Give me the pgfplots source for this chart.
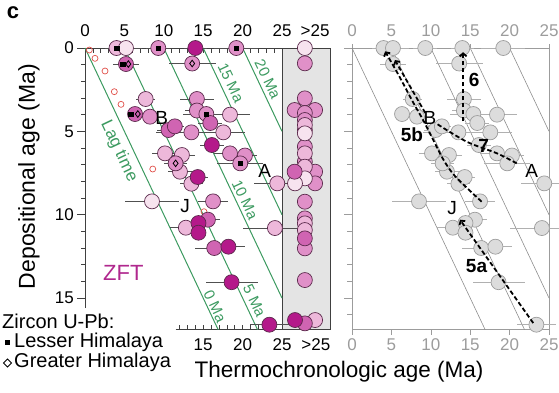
\documentclass[border=0pt]{standalone}
\usepackage{pgfplots}
\pgfplotsset{compat=1.18}
\usepackage{pgfplotstable}
\usepackage{fontspec}
\setmainfont{Liberation Sans}
\usetikzlibrary{arrows.meta}

\definecolor{cVL}{HTML}{F7E3EF}
\definecolor{cL}{HTML}{EDB8DA}
\definecolor{cM}{HTML}{E090C8}
\definecolor{cMD}{HTML}{D064B2}
\definecolor{cD}{HTML}{B4198A}
\definecolor{edge}{HTML}{5B2A4C}
\definecolor{lagG}{HTML}{3C9A60}
\definecolor{boxG}{HTML}{E4E4E4}
\definecolor{ebar}{HTML}{505050}
\definecolor{frame}{HTML}{404040}
\definecolor{rgray}{HTML}{9C9C9C}
\definecolor{rfill}{HTML}{DCDCDC}
\definecolor{zft}{HTML}{B0288E}
\definecolor{redc}{HTML}{E0504A}

% --- left/right panel data: thermochronologic age x, depositional age y, error ex
\pgfplotstableread{
x y ex
5.2 0 2.0
8.5 9.2 3.4
}\tVL
\pgfplotstableread{
x y ex
4.0 0 1.5
7.7 3.06 1.2
18.4 4.0 2.5
17.55 5.06 2.8
10.15 6.32 1.6
12.3 6.42 1.6
12.05 7.42 1.5
13.5 8.14 1.5
24.4 8.12 3.0
12.8 10.78 2.0
24.1 10.8 4.0
}\tL
\pgfplotstableread{
x y ex
9.3 0 1.5
19.2 0 2.8
13.6 0.93 3.0
14.2 3.06 2.2
14.2 3.75 1.5
15.4 3.96 3.0
8.25 4.12 0.8
13.5 5.06 4.5
18.4 6.32 2.0
20.3 6.45 1.5
19.7 6.92 2.9
11.5 6.92 1.5
16.25 9.2 1.9
}\tM
\pgfplotstableread{
x y ex
5.2 0.96 1.6
6.35 3.96 0.8
15.9 4.5 1.5
10.6 4.92 1.5
11.4 4.7 1.2
16.4 12.0 2.4
15.6 10.3 1.5
}\tMD
\pgfplotstableread{
x y ex
14.0 0 1.5
16.1 5.82 1.5
14.3 7.74 1.3
14.4 10.5 1.3
14.4 11.08 1.0
18.2 11.92 2.1
18.6 14.05 3.3
23.4 16.6 2.5
}\tD
\pgfplotstableread{
x y
4.0 0
9.3 0
19.2 0
4.8 0.96
5.8 3.96
15.4 3.96
19.7 6.92
}\tSq
\pgfplotstableread{
x y
5.5 0.96
13.6 0.93
6.7 3.96
11.5 6.92
}\tDi
\pgfplotstableread{
x y
0.55 0.12
1.27 0.62
2.54 1.38
3.72 2.62
4.57 3.38
8.6 7.26
15.1 9.82
}\tRed
% --- >25 Ma column
\pgfplotstableread{
x y
27.9 0
27.9 7.82
26.65 8.12
27.9 5.12
}\gVL
\pgfplotstableread{
x y
27.9 4.62
27.9 6.32
27.9 10.52
27.9 10.92
29.2 16.32
27.9 7.12
}\gL
\pgfplotstableread{
x y
27.9 0.92
27.9 3.02
26.6 3.72
29.2 3.72
27.9 3.9
27.9 4.32
27.9 4.92
27.9 5.92
27.9 6.82
29.2 7.42
29.2 8.12
27.9 9.22
27.9 10.22
27.9 12.02
27.9 13.92
}\gM
\pgfplotstableread{
x y
26.6 7.42
27.9 11.42
27.9 16.52
}\gMD
\pgfplotstableread{
x y
26.65 16.32
}\gD

\newcommand\tfs{\fontsize{17}{20}\selectfont}
\pgfplotsset{
  ebars/.style={only marks, mark=none, error bars/.cd, x dir=both, x explicit, error mark=none,
     error bar style={#1, line width=0.9pt}},
  circ/.style={only marks, mark=*, mark size=7.5pt, mark options={fill=#1, draw=edge, line width=0.7pt}},
  rcirc/.style={only marks, mark=*, mark size=7.5pt, mark options={fill=rfill, draw=rgray, line width=0.7pt}},
  trend/.style={black, line width=1.8pt, dash pattern=on 4.5pt off 2.5pt},
}

\begin{document}
\begin{tikzpicture}
\useasboundingbox (0,0) rectangle (559pt,-392pt);
% ================= LEFT PANEL =================
\begin{axis}[at={(85pt,-48pt)}, anchor=north west, scale only axis,
  width=245.07pt, height=281.7pt, xmin=0, xmax=31.1, ymin=0, ymax=16.9,
  y dir=reverse, hide axis, clip=false, clip marker paths=true]
 \fill[boxG] (axis cs:25,0) rectangle (axis cs:31.1,16.9);
 \draw[frame, line width=0.8pt] (axis cs:25,0) rectangle (axis cs:31.1,16.9);
 \draw[frame, line width=0.8pt] (axis cs:0,15.6) -- (axis cs:0,0) -- (axis cs:25,0);
 \draw[frame, line width=0.8pt] (axis cs:11.5,16.9) -- (axis cs:25,16.9);
 \pgfplotsinvokeforeach{0,...,25}{\draw[frame, line width=0.6pt] (axis cs:#1,0) -- ++(0,-4.5pt);}
 \pgfplotsinvokeforeach{12,...,25}{\draw[frame, line width=0.6pt] (axis cs:#1,16.9) -- ++(0,4.5pt);}
 \pgfplotsinvokeforeach{1,...,15}{\draw[frame, line width=0.6pt] (axis cs:0,#1) -- ++(-4pt,0);}
 \pgfplotsinvokeforeach{0,5,10,15}{\draw[frame, line width=0.6pt] (axis cs:0,#1) -- ++(-8pt,0);
    \node[font=\tfs, anchor=east, inner sep=0pt] at (axis cs:0,#1) [xshift=-11pt] {#1};}
 \pgfplotsinvokeforeach{0,5,10,15,20,25}{\node[font=\tfs, inner sep=0pt, yshift=17pt] at (axis cs:#1,0) {#1};}
 \pgfplotsinvokeforeach{15,20,25}{\node[font=\tfs, inner sep=0pt, yshift=-15pt] at (axis cs:#1,16.9) {#1};}
 \node[font=\tfs, inner sep=0pt, yshift=17pt] at (axis cs:29.2,0) {>25};
 \node[font=\tfs, inner sep=0pt, yshift=-15pt] at (axis cs:29.3,16.9) {>25};
 % lag-time lines
 \addplot[lagG, line width=1pt] coordinates {(0,0) (16.9,16.9)};
 \addplot[lagG, line width=1pt] coordinates {(5,0) (21.9,16.9)};
 \addplot[lagG, line width=1pt] coordinates {(10,0) (25,15)};
 \addplot[lagG, line width=1pt] coordinates {(15,0) (25,10)};
 \addplot[lagG, line width=1pt] coordinates {(20,0) (25,5)};
 \node[text=lagG, rotate=-64.7, inner sep=0pt, font=\fontsize{15}{17}\selectfont] at (axis cs:23.2,1.88) {20 Ma};
 \node[text=lagG, rotate=-64.7, inner sep=0pt, font=\fontsize{15}{17}\selectfont] at (axis cs:18.5,2.08) {15 Ma};
 \node[text=lagG, rotate=-64.7, inner sep=0pt, font=\fontsize{15}{17}\selectfont] at (axis cs:20.3,9.1) {10 Ma};
 \node[text=lagG, rotate=-64.7, inner sep=0pt, font=\fontsize{15}{17}\selectfont] at (axis cs:21.5,15.16) {5 Ma};
 \node[text=lagG, rotate=-64.7, inner sep=0pt, font=\fontsize{15}{17}\selectfont] at (axis cs:16.5,15.5) {0 Ma};
 \node[text=lagG, rotate=-64.7, inner sep=0pt, font=\fontsize{17}{19}\selectfont] at (axis cs:4.3,6.2) {Lag time};
 % red open circles
 \addplot[only marks, mark=o, mark size=3pt, mark options={draw=redc, line width=0.7pt}] table {\tRed};
 % error bars
 \addplot[ebars=ebar] table[x=x, y=y, x error=ex] {\tVL};
 \addplot[ebars=ebar] table[x=x, y=y, x error=ex] {\tL};
 \addplot[ebars=ebar] table[x=x, y=y, x error=ex] {\tM};
 \addplot[ebars=ebar] table[x=x, y=y, x error=ex] {\tMD};
 \addplot[ebars=ebar] table[x=x, y=y, x error=ex] {\tD};
 % circles
 \addplot[circ=cL] table[x=x, y=y] {\tL};
 \addplot[circ=cVL] table[x=x, y=y] {\tVL};
 \addplot[circ=cM] table[x=x, y=y] {\tM};
 \addplot[circ=cMD] table[x=x, y=y] {\tMD};
 \addplot[circ=cD] table[x=x, y=y] {\tD};
 % >25 column
 \addplot[circ=cM] table {\gM};
 \addplot[circ=cL] table {\gL};
 \addplot[circ=cVL] table {\gVL};
 \addplot[circ=cMD] table {\gMD};
 \addplot[circ=cD] table {\gD};
 % zircon source markers
 \addplot[only marks, mark=square*, mark size=2.3pt, mark options={fill=black, draw=black}] table {\tSq};
 \addplot[only marks, mark=diamond, mark size=3.3pt, mark options={draw=black, line width=0.8pt}] table {\tDi};
 % labels
 \node[font=\fontsize{19}{21}\selectfont] at (axis cs:9.73,4.22) {B};
 \node[font=\fontsize{19}{21}\selectfont] at (axis cs:22.8,7.4) {A};
 \node[font=\fontsize{19}{21}\selectfont] at (axis cs:12.7,9.5) {J};
 \node[text=zft, font=\fontsize{22}{24}\selectfont] at (axis cs:4.86,13.5) {ZFT};
\end{axis}
% ================= RIGHT PANEL =================
\begin{axis}[at={(352pt,-48pt)}, anchor=north west, scale only axis,
  width=197pt, height=281.7pt, xmin=0, xmax=25, ymin=0, ymax=16.9,
  y dir=reverse, hide axis, clip=false, clip marker paths=true]
 \draw[rgray, line width=0.8pt] (axis cs:0,0) rectangle (axis cs:25,16.9);
 \pgfplotsinvokeforeach{1,...,16}{\draw[rgray, line width=0.6pt] (axis cs:0,#1) -- ++(-5pt,0);}
 \pgfplotsinvokeforeach{0,5,10,15}{\draw[rgray, line width=0.6pt] (axis cs:0,#1) -- ++(-8pt,0);}
 \pgfplotsinvokeforeach{0,5,10,15,20,25}{
   \draw[rgray, line width=0.6pt] (axis cs:#1,16.9) -- ++(0,-5pt);
   \draw[rgray, line width=0.6pt] (axis cs:#1,0) -- ++(0,4pt);
   \node[font=\tfs, text=rgray, inner sep=0pt, yshift=17pt] at (axis cs:#1,0) {#1};
   \node[font=\tfs, text=rgray, inner sep=0pt, yshift=-15pt] at (axis cs:#1,16.9) {#1};}
 \addplot[rgray!90!black, line width=0.6pt] coordinates {(0,0) (16.9,16.9)};
 \addplot[rgray!90!black, line width=0.6pt] coordinates {(5,0) (21.9,16.9)};
 \addplot[rgray!90!black, line width=0.6pt] coordinates {(10,0) (25,15)};
 \addplot[rgray!90!black, line width=0.6pt] coordinates {(15,0) (25,10)};
 \addplot[rgray!90!black, line width=0.6pt] coordinates {(20,0) (25,5)};
 \addplot[ebars=rgray!80] table[x=x, y=y, x error=ex] {\tVL};
 \addplot[ebars=rgray!80] table[x=x, y=y, x error=ex] {\tL};
 \addplot[ebars=rgray!80] table[x=x, y=y, x error=ex] {\tM};
 \addplot[ebars=rgray!80] table[x=x, y=y, x error=ex] {\tMD};
 \addplot[ebars=rgray!80] table[x=x, y=y, x error=ex] {\tD};
 \addplot[rcirc] table[x=x, y=y] {\tL};
 \addplot[rcirc] table[x=x, y=y] {\tVL};
 \addplot[rcirc] table[x=x, y=y] {\tM};
 \addplot[rcirc] table[x=x, y=y] {\tMD};
 \addplot[rcirc] table[x=x, y=y] {\tD};
 % trend arrows
 \addplot[trend, -{Straight Barb[length=3pt,width=7pt]}] coordinates {(14.1,4.4) (14.1,0.25)};
 \addplot[trend, smooth, -{Straight Barb[length=3pt,width=7pt]}] coordinates {(16.45,9.22) (13.1,7.7) (11.6,6.7) (10.3,5.5) (9.0,4.3) (7.8,3.3) (6.0,1.7) (4.2,0.2)};
 \addplot[trend, -{Straight Barb[length=3pt,width=7pt]}] coordinates {(9.3,3.9) (5.45,0.72)};
 \addplot[trend, smooth] coordinates {(20.9,6.92) (18.4,6.32) (14.55,5.62) (10.6,4.5)};
 \addplot[trend, -{Straight Barb[length=3pt,width=7pt]}] coordinates {(23.0,16.5) (13.7,10.3)};
 \node[font=\fontsize{19}{21}\selectfont] at (axis cs:9.9,4.2) {B};
 \node[font=\fontsize{19}{21}\selectfont] at (axis cs:22.8,7.4) {A};
 \node[font=\fontsize{19}{21}\selectfont] at (axis cs:12.7,9.6) {J};
 \node[font=\bfseries\fontsize{19}{21}\selectfont] at (axis cs:7.6,5.2) {5b};
 \node[font=\bfseries\fontsize{19}{21}\selectfont] at (axis cs:15.5,1.9) {6};
 \node[font=\bfseries\fontsize{19}{21}\selectfont] at (axis cs:16.7,5.9) {7};
 \node[font=\bfseries\fontsize{19}{21}\selectfont] at (axis cs:15.8,13.1) {5a};
\end{axis}
% ================= TEXT =================
\node[font=\bfseries\fontsize{22}{24}\selectfont] at (13pt,-13pt) {c};
\node[rotate=90, font=\fontsize{23}{25}\selectfont] at (29pt,-176.5pt) {Depositional age (Ma)};
\node[font=\fontsize{22.5}{25}\selectfont] at (339pt,-372pt) {Thermochronologic age (Ma)};
\node[anchor=west, inner sep=0pt, font=\fontsize{20}{22}\selectfont] at (2pt,-321pt) {Zircon U-Pb:};
\node[anchor=west, inner sep=0pt, font=\fontsize{20}{22}\selectfont] at (14pt,-342pt) {Lesser Himalaya};
\node[anchor=west, inner sep=0pt, font=\fontsize{20}{22}\selectfont] at (14pt,-362.5pt) {Greater Himalaya};
\fill[black] (5pt,-340pt) rectangle (10pt,-345pt);
\draw[black, line width=0.8pt] (3.5pt,-363pt) -- (7.5pt,-359pt) -- (11.5pt,-363pt) -- (7.5pt,-367pt) -- cycle;
\end{tikzpicture}
\end{document}
